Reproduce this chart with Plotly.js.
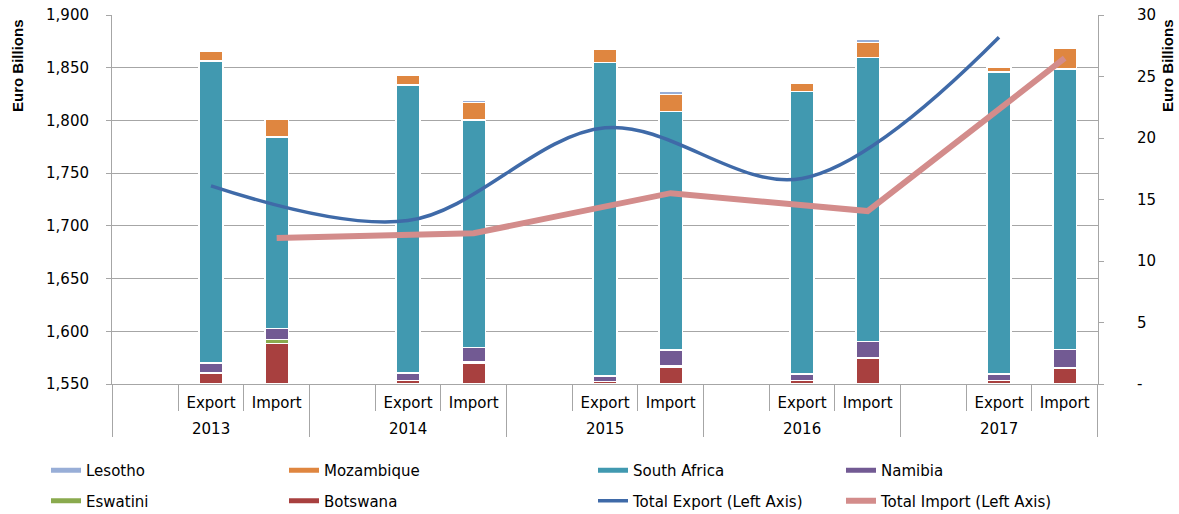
<!DOCTYPE html>
<html>
<head>
<meta charset="utf-8">
<script src="https://cdn.plot.ly/plotly-3.0.1.min.js"></script>
<style>html,body{margin:0;padding:0;background:#fff;}#chart{width:1179px;height:514px;}</style>
</head>
<body>
<div id="chart"></div>
<script>
// ---- data (Euro Billions) ----
const years = ["2013", "2014", "2015", "2016", "2017"];
const flows = ["Export", "Import"];

// stacked bars (right axis)
const botswanaExport   = [0.9, 0.3, 0.2, 0.3, 0.3];
const botswanaImport   = [3.3, 1.7, 1.4, 2.1, 1.3];
const eswatiniExport   = [0.0, 0.0, 0.0, 0.0, 0.0];
const eswatiniImport   = [0.3, 0.15, 0.05, 0.05, 0.05];
const namibiaExport    = [0.8, 0.6, 0.45, 0.5, 0.5];
const namibiaImport    = [0.9, 1.1, 1.3, 1.3, 1.45];
const southAfricaExport = [24.56, 23.4, 25.5, 23.0, 24.57];
const southAfricaImport = [15.6, 18.5, 19.4, 23.1, 22.8];
const mozambiqueExport = [0.8, 0.8, 1.05, 0.65, 0.4];
const mozambiqueImport = [1.4, 1.45, 1.4, 1.2, 1.7];
const lesothoExport    = [0.03, 0.03, 0.03, 0.03, 0.03];
const lesothoImport    = [0.05, 0.2, 0.25, 0.25, 0.2];

// totals (left axis)
const totalExport = [1738, 1705, 1793, 1745, 1879];
const totalImport = [1688.5, 1693, 1731, 1714, 1859];

const axisTitle = "Euro Billions";

// ---- slots per year: spacer, Export, Import ----
const spacer = " ";
const slotKeys = [], slotLabels = [];
years.forEach(y => { [spacer, ...flows].forEach(f => { slotKeys.push(y + "|" + f); slotLabels.push(f); }); });
const perYear = flows.length + 1;
function slotY(exp, imp) {
  const out = [];
  years.forEach((y, i) => { out.push(null, exp[i], imp[i]); });
  return out;
}

const countries = [
  {name: "Botswana",     exp: botswanaExport,    imp: botswanaImport,    color: "#A8403F"},
  {name: "Eswatini",     exp: eswatiniExport,    imp: eswatiniImport,    color: "#8AAA4E"},
  {name: "Namibia",      exp: namibiaExport,     imp: namibiaImport,     color: "#725A93"},
  {name: "South Africa", exp: southAfricaExport, imp: southAfricaImport, color: "#4199B0"},
  {name: "Mozambique",   exp: mozambiqueExport,  imp: mozambiqueImport,  color: "#DF8640"},
  {name: "Lesotho",      exp: lesothoExport,     imp: lesothoImport,     color: "#98AED7"}
];

const legendOf = {
  "Lesotho": "legend", "Eswatini": "legend",
  "Mozambique": "legend2", "Botswana": "legend2",
  "South Africa": "legend3", "Total Export (Left Axis)": "legend3",
  "Namibia": "legend4", "Total Import (Left Axis)": "legend4"
};
const rankOf = {
  "Lesotho": 1, "Eswatini": 2, "Mozambique": 1, "Botswana": 2,
  "South Africa": 1, "Total Export (Left Axis)": 2, "Namibia": 1, "Total Import (Left Axis)": 2
};

const traces = [];
countries.forEach(c => {
  traces.push({
    type: "bar", name: c.name, legendgroup: c.name, showlegend: false,
    x: slotKeys, y: slotY(c.exp, c.imp), yaxis: "y",
    marker: {color: c.color, line: {color: "#ffffff", width: 1.5}},
    hovertemplate: c.name + ": %{y}<extra></extra>"
  });
});

traces.push({
  type: "scatter", mode: "lines", name: "Total Export (Left Axis)",
  x: years.map(y => y + "|Export"), y: totalExport, yaxis: "y2",
  line: {color: "#3F6AA8", width: 3.5, shape: "spline", smoothing: 1},
  legend: legendOf["Total Export (Left Axis)"], legendrank: 2, legendgroup: "Total Export (Left Axis)"
});
traces.push({
  type: "scatter", mode: "lines", name: "Total Import (Left Axis)",
  x: years.map(y => y + "|Import"), y: totalImport, yaxis: "y2",
  line: {color: "#D38C8B", width: 6},
  legend: legendOf["Total Import (Left Axis)"], legendrank: 2, legendgroup: "Total Import (Left Axis)"
});

// legend-only line swatches for the bar series
countries.forEach(c => {
  traces.push({
    type: "scatter", mode: "lines", name: c.name, legendgroup: c.name,
    x: [slotKeys[0]], y: [null], yaxis: "y2", hoverinfo: "skip",
    line: {color: c.color, width: 5},
    legend: legendOf[c.name], legendrank: rankOf[c.name]
  });
});

const font = {family: "DejaVu Sans, Verdana, sans-serif", size: 15, color: "#000"};
const legendFont = {family: "DejaVu Sans, Verdana, sans-serif", size: 15, color: "#000"};
const titleFont = {family: "Liberation Sans, Arial, sans-serif", size: 15, color: "#000", weight: "bold"};
const gridGray = "#a6a6a6";

const plotL = 112, plotR = 1098, plotT = 15, plotB = 384;
const pw = plotR - plotL, ph = plotB - plotT;
function lx(px) { return (px - plotL) / pw; }
function ly(py) { return (plotB - py) / ph; }
function mkLegend(px) {
  return {
    x: lx(px), xanchor: "left", y: ly(454), yanchor: "top",
    orientation: "v", traceorder: "grouped", tracegroupgap: 8,
    font: legendFont, bgcolor: "rgba(0,0,0,0)", itemwidth: 30
  };
}

// year group dividers and year labels
const shapes = [];
for (let i = 0; i <= years.length; i++) {
  shapes.push({
    type: "line", xref: "x", yref: "paper",
    x0: i * perYear - 0.5, x1: i * perYear - 0.5, y0: 0, y1: ly(437),
    line: {color: gridGray, width: 1}
  });
}
const annotations = years.map(y => ({
  xref: "x", yref: "paper", x: y + "|Export", y: ly(429),
  text: y, showarrow: false, font: font, xanchor: "center", yanchor: "middle"
}));
// axis titles sit at the top of each value axis
annotations.push({
  xref: "paper", yref: "paper", x: lx(17), y: ly(66), text: axisTitle, textangle: -90,
  showarrow: false, font: titleFont, xanchor: "center", yanchor: "middle"
});
annotations.push({
  xref: "paper", yref: "paper", x: lx(1167), y: ly(66), text: axisTitle, textangle: -90,
  showarrow: false, font: titleFont, xanchor: "center", yanchor: "middle"
});

const layout = {
  width: 1179, height: 514,
  margin: {l: plotL, r: 1179 - plotR, t: plotT, b: 514 - plotB, pad: 0, autoexpand: false},
  paper_bgcolor: "#fff", plot_bgcolor: "#fff",
  font: font,
  barmode: "stack", bargap: 0.64,
  hovermode: "closest",
  shapes: shapes,
  annotations: annotations,
  xaxis: {
    type: "category", categoryorder: "array", categoryarray: slotKeys,
    tickmode: "array", tickvals: slotKeys, ticktext: slotLabels,
    tickson: "boundaries", ticks: "outside", ticklen: 26,
    tickcolor: gridGray, tickwidth: 1,
    showline: true, linecolor: gridGray, linewidth: 1,
    showgrid: false, tickfont: font, ticklabelstandoff: 5,
    automargin: false
  },
  yaxis: {
    side: "right", range: [0, 30],
    tickvals: [0, 5, 10, 15, 20, 25, 30], ticktext: ["-", "5", "10", "15", "20", "25", "30"],
    showgrid: false, zeroline: false,
    ticks: "outside", ticklen: 5, tickcolor: gridGray,
    showline: true, linecolor: gridGray, linewidth: 1,
    tickfont: font, ticklabelstandoff: 30,
    automargin: false
  },
  yaxis2: {
    overlaying: "y", side: "left", range: [1550, 1900], dtick: 50, tickformat: ",",
    showgrid: true, gridcolor: gridGray, gridwidth: 1, zeroline: false,
    ticks: "outside", ticklen: 5, tickcolor: gridGray,
    showline: true, linecolor: gridGray, linewidth: 1,
    tickfont: font, ticklabelstandoff: 14,
    automargin: false
  },
  legend: mkLegend(46),
  legend2: mkLegend(284),
  legend3: mkLegend(593),
  legend4: mkLegend(841)
};

Plotly.newPlot("chart", traces, layout, {displayModeBar: false, responsive: false});
</script>
</body>
</html>
